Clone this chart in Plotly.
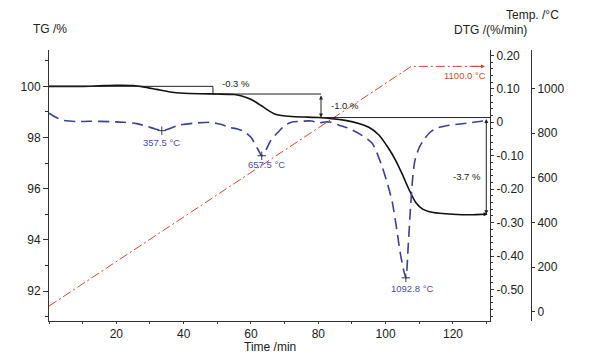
import plotly.graph_objects as go

# ---------------- data ----------------
time_tg = [0, 10, 15, 20, 25, 28, 32, 36, 40, 45, 50, 55, 57, 59, 61, 63, 65, 67, 69, 72, 76, 80,
           84, 88, 92, 95, 98, 101, 103, 105, 107, 109, 111, 113, 116, 120, 125, 130]
tg = [100.0, 100.0, 100.02, 100.04, 100.03, 99.98, 99.88, 99.78, 99.73, 99.71, 99.70, 99.68, 99.63,
      99.54, 99.42, 99.25, 99.07, 98.92, 98.86, 98.82, 98.80, 98.78, 98.74, 98.67, 98.55, 98.40,
      98.10, 97.55, 97.10, 96.55, 95.95, 95.45, 95.20, 95.10, 95.04, 95.00, 94.98, 95.00]

time_dtg = [0, 2, 4, 8, 12, 18, 22, 26, 29, 31.5, 33.5, 35.5, 38.5, 43, 48, 51, 53.5, 56, 58, 60,
            62, 63.2, 64.5, 66, 68, 70, 72, 75, 78, 80, 82, 84, 86, 89, 92, 96, 99, 101, 102,
            103.3, 104.5, 106.0, 106.7, 107.3, 108, 108.7, 110, 111.5, 113, 115, 119, 124, 130.5]
dtg = [0.027, 0.015, 0.006, 0.002, 0.003, 0.002, 0.0, -0.004, -0.012, -0.02, -0.025, -0.02, -0.009,
       -0.003, 0.0, -0.006, -0.015, -0.02, -0.028, -0.045, -0.08, -0.100, -0.082, -0.052, -0.03,
       -0.01, 0.0, 0.003, 0.004, -0.002, 0.001, 0.0, -0.008, -0.018, -0.033, -0.063, -0.134, -0.2,
       -0.24, -0.32, -0.40, -0.465, -0.37, -0.27, -0.17, -0.114, -0.075, -0.05, -0.032, -0.018,
       -0.009, -0.003, 0.006]

time_temp = [0, 107.6, 129]
temp = [25, 1100, 1100]

peak_time = [33.5, 63.2, 106.0]
peak_dtg = [-0.025, -0.100, -0.465]
peak_labels = ["357.5 °C", "657.5 °C", "1092.8 °C"]

step_times = [48.7, 80.8, 129.9]
tg_levels = [100.0, 99.70, 98.78, 95.0]
step_labels = ["-0.3 %", "-1.0 %", "-3.7 %"]

x_ticks = [20, 40, 60, 80, 100, 120]
tg_ticks = [92, 94, 96, 98, 100]
dtg_ticks = [0.20, 0.10, 0.0, -0.10, -0.20, -0.30, -0.40, -0.50]
dtg_ticktext = ["0.20", "0.10", "0", "-0.10", "-0.20", "-0.30", "-0.40", "-0.50"]
temp_ticks = [0, 200, 400, 600, 800, 1000]
temp_label = "1100.0 °C"

# ---------------- styles ----------------
FONT = "Liberation Sans, Arial, sans-serif"
AX = "#333333"
TXT = "#222222"
NAVY = "#3c4192"
RED = "#cf4a2c"

W, H = 593, 360
ML, MR, MT, MB = 49, 40, 50, 39
PW = W - ML - MR
XEND = (490 - ML) / PW
TPOS = (531 - ML) / PW

fig = go.Figure()

fig.add_trace(go.Scatter(x=time_temp, y=temp, yaxis="y3", mode="lines",
                         line=dict(color=RED, width=1, dash="9px,3px,2px,3px"),
                         hoverinfo="skip", showlegend=False))
fig.add_trace(go.Scatter(x=time_dtg, y=dtg, yaxis="y2", mode="lines",
                         line=dict(color=NAVY, width=1.6, dash="11px,6px", shape="spline", smoothing=0.7),
                         showlegend=False))
fig.add_trace(go.Scatter(x=peak_time, y=peak_dtg, yaxis="y2", mode="markers",
                         marker=dict(symbol="cross-thin", size=6, line=dict(color="#333355", width=1)),
                         showlegend=False))
fig.add_trace(go.Scatter(x=time_tg, y=tg, yaxis="y", mode="lines",
                         line=dict(color="#111111", width=1.6, shape="spline", smoothing=0.6),
                         showlegend=False))

shapes = []
lc = dict(color="#222222", width=1)
shapes.append(dict(type="line", xref="x", yref="y", x0=0, x1=step_times[0], y0=tg_levels[0], y1=tg_levels[0], line=lc))
shapes.append(dict(type="line", xref="x", yref="y", x0=step_times[0], x1=step_times[0], y0=tg_levels[0], y1=tg_levels[1], line=lc))
shapes.append(dict(type="line", xref="x", yref="y", x0=step_times[0], x1=step_times[1], y0=tg_levels[1], y1=tg_levels[1], line=lc))
shapes.append(dict(type="line", xref="x", yref="y", x0=step_times[1], x1=131, y0=tg_levels[2], y1=tg_levels[2], line=lc))

annotations = []
for i in (1, 2):
    annotations.append(dict(x=step_times[i], y=tg_levels[i + 1], ax=step_times[i], ay=tg_levels[i],
                            xref="x", yref="y", axref="x", ayref="y", text="", showarrow=True,
                            arrowhead=2, startarrowhead=2, arrowside="end+start",
                            arrowsize=0.8, startarrowsize=0.8, arrowwidth=1, arrowcolor="#222222"))
annotations.append(dict(x=130.3, y=tg[-1], ax=126, ay=tg[-1], xref="x", yref="y", axref="x", ayref="y",
                        text="", showarrow=True, arrowhead=2, arrowsize=0.8, arrowwidth=1, arrowcolor="#111111"))
annotations.append(dict(x=129.5, y=temp[-1], ax=125, ay=temp[-1], xref="x", yref="y3", axref="x", ayref="y3",
                        text="", showarrow=True, arrowhead=2, arrowsize=0.8, arrowwidth=1, arrowcolor=RED))

small = dict(family=FONT, size=9.5)
annotations.append(dict(x=55.5, y=100.13, xref="x", yref="y", text=step_labels[0], showarrow=False,
                        font=dict(small, color="#222222")))
annotations.append(dict(x=87.9, y=99.27, xref="x", yref="y", text=step_labels[1], showarrow=False,
                        font=dict(small, color="#222222")))
annotations.append(dict(x=124.3, y=96.46, xref="x", yref="y", text=step_labels[2], showarrow=False,
                        font=dict(small, color="#222222")))
offs = [(0, -12), (5, -9), (6.5, -11)]
for t, v, lab, (dx, dy) in zip(peak_time, peak_dtg, peak_labels, offs):
    annotations.append(dict(x=t, y=v, xref="x", yref="y2", text=lab, showarrow=False,
                            xshift=dx, yshift=dy, font=dict(small, color="#4a4f9c")))
annotations.append(dict(x=123.7, y=1057, xref="x", yref="y3", text=temp_label, showarrow=False,
                        font=dict(small, color=RED)))

def px(xp, yp):
    return (xp - ML) / PW, (H - MB - yp) / (H - MT - MB)

for text, (xx, yy) in [("TG /%", (49.5, 29)), ("Temp. /°C", (532, 15)),
                       ("DTG /(%/min)", (490, 30)), ("Time /min", (269.5, 346.5))]:
    xp, yp = px(xx, yy)
    annotations.append(dict(x=xp, y=yp, xref="paper", yref="paper", xanchor="center", yanchor="middle",
                            text=text, showarrow=False, font=dict(family=FONT, size=12, color=TXT)))

axis_common = dict(showline=True, linecolor=AX, linewidth=1, ticks="outside", tickcolor=AX,
                   showgrid=False, zeroline=False, tickfont=dict(family=FONT, size=12, color=TXT))

fig.update_layout(
    width=W, height=H,
    margin=dict(l=ML, r=MR, t=MT, b=MB),
    paper_bgcolor="white", plot_bgcolor="white",
    showlegend=False,
    xaxis=dict(axis_common, domain=[0, XEND], range=[0, 131], tickvals=x_ticks, ticklen=2,
               minor=dict(ticks="outside", dtick=10, tick0=0, ticklen=2, tickcolor=AX)),
    yaxis=dict(axis_common, range=[90.83, 101.42], tickvals=tg_ticks, ticklen=5,
               minor=dict(ticks="outside", dtick=1, tick0=0, ticklen=3, tickcolor=AX)),
    yaxis2=dict(axis_common, range=[-0.594, 0.216], tickvals=dtg_ticks, ticktext=dtg_ticktext,
                overlaying="y", side="right", anchor="x", ticklen=3,
                minor=dict(ticks="outside", dtick=0.02, tick0=0, ticklen=2, tickcolor=AX)),
    yaxis3=dict(axis_common, range=[-41.7, 1173.5], tickvals=temp_ticks, overlaying="y",
                side="right", anchor="free", position=TPOS, ticklen=3),
    shapes=shapes,
    annotations=annotations,
)

fig.write_html("out.html", config={"displayModeBar": False},
               post_script="document.body.style.margin='0';")
